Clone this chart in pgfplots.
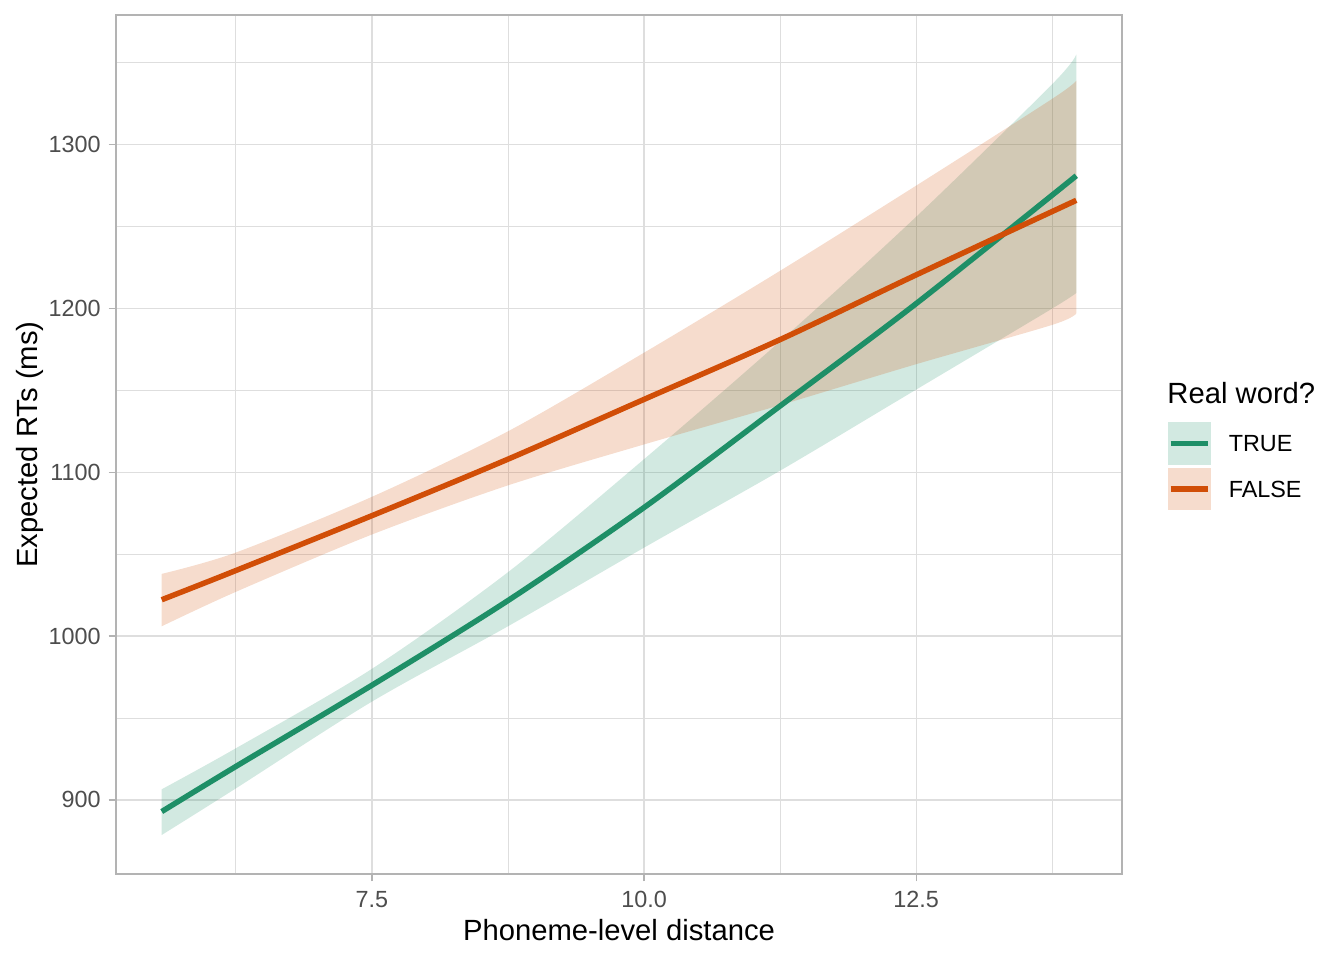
\documentclass[border=0pt]{standalone}
\usepackage{fontspec}
\setmainfont{Liberation Sans}
\usepackage{pgfplots}
\pgfplotsset{compat=1.18}
\usepgfplotslibrary{fillbetween}
\definecolor{cTrue}{HTML}{1E8F67}
\definecolor{cFalse}{HTML}{D14E07}
\definecolor{gridc}{HTML}{DEDEDE}
\definecolor{borderc}{HTML}{B3B3B3}
\definecolor{tickc}{HTML}{4D4D4D}
\begin{document}
\begin{tikzpicture}
\begin{axis}[
  at={(0,0)}, anchor=south west,
  scale only axis, width=377.25bp, height=322.1bp,
  xmin=5.15, xmax=14.39, ymin=854.8, ymax=1379.1,
  xtick={7.5,10,12.5}, xticklabels={7.5,10.0,12.5},
  minor xtick={6.25,8.75,11.25,13.75},
  ytick={900,1000,1100,1200,1300}, yticklabels={900,1000,1100,1200,1300},
  minor ytick={950,1050,1150,1250,1350},
  grid=both,
  major grid style={gridc, line width=0.53bp},
  minor grid style={gridc, line width=0.27bp},
  axis line style={borderc, line width=1.07bp},
  tick align=outside, major tick length=2.75bp, minor tick length=0pt,
  tick style={borderc, line width=0.53bp},
  xtick pos=bottom, ytick pos=left,
  /pgf/number format/assume math mode=true,
  ticklabel style={font=\fontsize{8.8}{10}\selectfont, text=tickc, inner sep=0pt},
  xticklabel style={anchor=north, yshift=-3.5bp},
  yticklabel style={anchor=east, xshift=-2.85bp},
  xlabel={Phoneme-level distance},
  ylabel={Expected RTs (ms)},
  label style={font=\fontsize{11}{13}\selectfont, inner sep=0pt},
  xlabel style={at={(axis description cs:0.5,0)}, anchor=base, yshift=-25bp},
  ylabel style={at={(axis description cs:0,0.5)}, anchor=base, rotate=0, yshift=29.6bp},
]
% TRUE ribbon
\addplot[name path=gu, draw=none, smooth] coordinates {(5.57,906.5) (6.25,931.5) (7.5,980) (8.75,1039) (10,1108) (11.25,1180) (12.5,1256) (13.75,1337) (13.97,1355)};
\addplot[name path=gl, draw=none, smooth] coordinates {(5.57,878.6) (6.25,907) (7.5,960) (8.75,1006) (10,1054) (11.25,1101) (12.5,1150.5) (13.75,1200) (13.97,1209.5)};
\addplot[cTrue, fill opacity=0.2, draw=none] fill between[of=gu and gl];
% FALSE ribbon
\addplot[name path=ou, draw=none, smooth] coordinates {(5.57,1038) (6.25,1051) (7.5,1085) (8.75,1125) (10,1173) (11.25,1223) (12.5,1275) (13.75,1328) (13.97,1339)};
\addplot[name path=ol, draw=none, smooth] coordinates {(5.57,1006) (6.25,1027) (7.5,1062) (8.75,1092) (10,1117) (11.25,1141) (12.5,1166) (13.75,1190) (13.97,1197)};
\addplot[cFalse, fill opacity=0.2, draw=none] fill between[of=ou and ol];
% lines
\addplot[cTrue, line width=2.05bp, smooth] coordinates {(5.57,892.9) (6.25,920.4) (7.5,970) (8.75,1021.7) (10,1078.5) (11.25,1140.5) (12.5,1203) (13.97,1281)};
\addplot[cFalse, line width=2.05bp, smooth] coordinates {(5.57,1022.2) (6.25,1040) (7.5,1073.5) (8.75,1108) (10,1144.5) (11.25,1181) (12.5,1220.5) (13.97,1266)};
\end{axis}
% legend
\node[anchor=base west, inner sep=0pt, font=\fontsize{11}{13}\selectfont] at (394.1bp,176.5bp) {Real word?};
\fill[cTrue, fill opacity=0.2] (394.5bp,153.4bp) rectangle (410.6bp,169.5bp);
\draw[cTrue, line width=2.05bp] (395.5bp,161.45bp) -- (409.6bp,161.45bp);
\fill[cFalse, fill opacity=0.2] (394.5bp,136.5bp) rectangle (410.6bp,152.4bp);
\draw[cFalse, line width=2.05bp] (395.5bp,144.45bp) -- (409.6bp,144.45bp);
\node[anchor=west, inner sep=0pt, font=\fontsize{8.8}{10}\selectfont] at (417.1bp,161.3bp) {TRUE};
\node[anchor=west, inner sep=0pt, font=\fontsize{8.8}{10}\selectfont] at (417.1bp,144.2bp) {FALSE};
\pgfresetboundingbox
\path[use as bounding box] (-43.5bp,-32.25bp) rectangle (460.5bp,327.75bp);
\end{tikzpicture}
\end{document}
